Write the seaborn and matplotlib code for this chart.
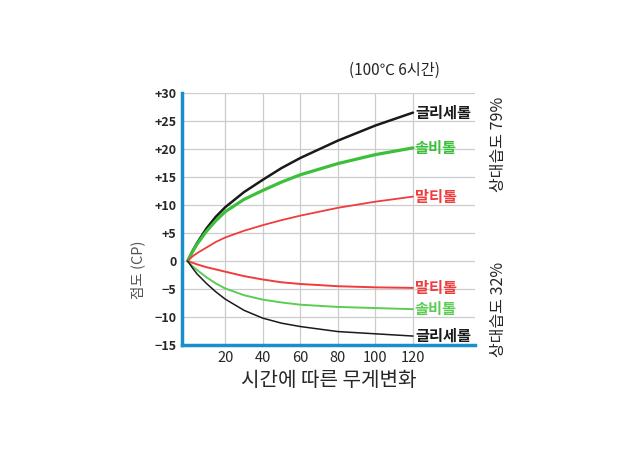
import numpy as np
import pandas as pd
import matplotlib
matplotlib.use("Agg")
import matplotlib.pyplot as plt
import seaborn as sns

# readings taken from the reference chart (time in minutes, viscosity change in CP)
minutes = [0, 2.5, 5, 10, 15, 20, 30, 40, 50, 60, 80, 100, 120]
glycerol_79 = [0, 1.7, 3.2, 5.8, 7.9, 9.6, 12.3, 14.5, 16.6, 18.4, 21.5, 24.2, 26.5]
sorbitol_79 = [0, 1.6, 3.0, 5.3, 7.2, 8.8, 11.0, 12.6, 14.1, 15.4, 17.4, 19.0, 20.2]
maltitol_79 = [0, 0.8, 1.4, 2.4, 3.4, 4.2, 5.4, 6.4, 7.3, 8.1, 9.5, 10.6, 11.5]
maltitol_32 = [0, -0.3, -0.6, -1.1, -1.5, -1.9, -2.7, -3.3, -3.8, -4.1, -4.5, -4.7, -4.8]
sorbitol_32 = [0, -0.9, -1.6, -2.9, -4.0, -4.9, -6.1, -6.9, -7.4, -7.8, -8.2, -8.4, -8.6]
glycerol_32 = [0, -1.2, -2.3, -4.0, -5.5, -6.8, -8.8, -10.2, -11.1, -11.7, -12.6, -13.0, -13.4]

x_ticks = [20, 40, 60, 80, 100, 120]
y_ticks = [-15, -10, -5, 0, 5, 10, 15, 20, 25, 30]
y_tick_labels = ["\u221215", "\u221210", "\u22125", "0", "+5", "+10", "+15", "+20", "+25", "+30"]

sns.set_style("white")
plt.rcParams["font.family"] = ["Noto Sans CJK KR", "DejaVu Sans"]

fig = plt.figure(figsize=(6.35, 4.5), dpi=100)
ax = fig.add_axes([0.2866, 0.2333, 0.4614, 0.56])

# (series, colour, line width, label)
series = [
    (glycerol_79, "#1a1a1a", 1.8, "글리세롤"),
    (sorbitol_79, "#3cc03c", 2.3, "솔비톨"),
    (maltitol_79, "#f03c3c", 1.3, "말티톨"),
    (maltitol_32, "#f03c3c", 1.4, "말티톨"),
    (sorbitol_32, "#5ccc55", 1.4, "솔비톨"),
    (glycerol_32, "#1a1a1a", 1.1, "글리세롤"),
]

for vals, color, lw, name in series:
    df = pd.DataFrame({"t": minutes, "v": vals})
    sns.lineplot(data=df, x="t", y="v", color=color, linewidth=lw, ax=ax)
    ax.text(minutes[-1] + 1, vals[-1], name, color=color, fontsize=11,
            fontweight="bold", ha="left", va="center")

ax.set_xlim(-3, 153)
ax.set_ylim(-15, 30)
ax.set_xticks(x_ticks)
ax.set_xticklabels([str(t) for t in x_ticks], fontsize=10.5)
ax.set_yticks(y_ticks)
ax.set_yticklabels(y_tick_labels, fontsize=9, fontweight="bold")
ax.tick_params(length=0, pad=4)

# grid lines
for gx in x_ticks:
    ax.axvline(gx, color="#cccccc", lw=0.9, zorder=0)
for gy in y_ticks:
    ax.axhline(gy, color="#cccccc", lw=0.9, zorder=0)

for side in ["top", "right"]:
    ax.spines[side].set_visible(False)
for side in ["left", "bottom"]:
    ax.spines[side].set_color("#1b8fcb")
    ax.spines[side].set_linewidth(2.5)

ax.set_xlabel("시간에 따른 무게변화", fontsize=14.5, fontweight="medium", labelpad=4)
ax.set_ylabel("점도 (CP)", fontsize=10.5, color="#555555")
ax.yaxis.set_label_coords(-0.125, 0.30)

ax.text(0.725, 1.09, "(100℃ 6시간)", transform=ax.transAxes, fontsize=11,
        ha="center", va="center")
ax.text(1.08, 0.985, "상대습도 79%", transform=ax.transAxes, fontsize=11.5,
        rotation=90, ha="center", va="top")
ax.text(1.08, 0.33, "상대습도 32%", transform=ax.transAxes, fontsize=11.5,
        rotation=90, ha="center", va="top")

fig.savefig("out.png", dpi=100)
